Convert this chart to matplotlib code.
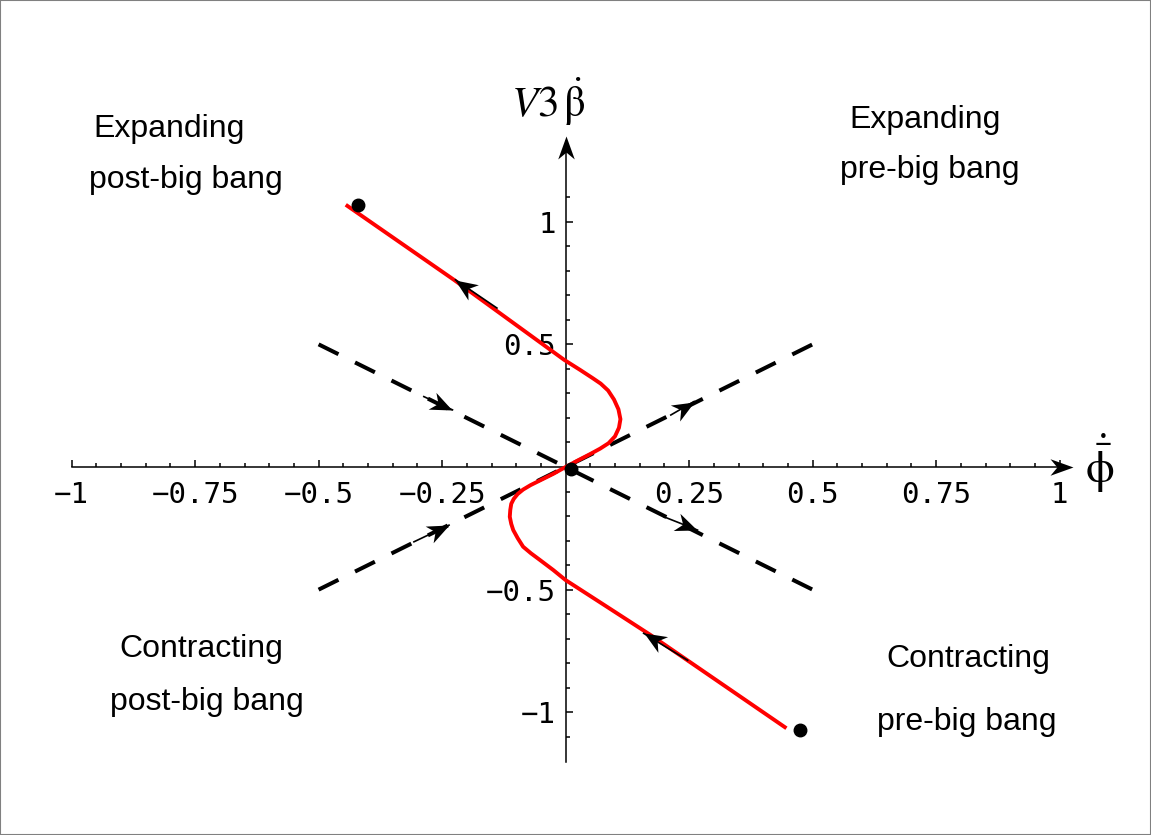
import numpy as np
import matplotlib
matplotlib.use("Agg")
import matplotlib.pyplot as plt
from matplotlib.path import Path
from matplotlib.markers import MarkerStyle
from matplotlib.transforms import Affine2D
from matplotlib.patches import Rectangle

# ---------------- data ----------------
curve_x = [-0.445, -0.226, -0.003, 0.030, 0.055, 0.071, 0.086, 0.098, 0.107, 0.111,
           0.108, 0.100, 0.087, 0.070, 0.050, 0.025, 0.000, -0.025, -0.050, -0.071,
           -0.086, -0.097, -0.105, -0.110, -0.112, -0.113, -0.110, -0.106, -0.097,
           -0.086, -0.070, -0.052, -0.025, 0.000, 0.080, 0.172, 0.447]
curve_y = [1.069, 0.763, 0.437, 0.395, 0.362, 0.340, 0.312, 0.275, 0.235, 0.195,
           0.160, 0.125, 0.097, 0.075, 0.053, 0.027, 0.000, -0.028, -0.053, -0.074,
           -0.092, -0.110, -0.130, -0.150, -0.175, -0.203, -0.232, -0.257, -0.290,
           -0.325, -0.352, -0.379, -0.420, -0.461, -0.565, -0.685, -1.065]

sep_down_x = [-0.5, 0.5]
sep_down_y = [0.5, -0.5]
sep_up_x = [-0.5, 0.5]
sep_up_y = [-0.5, 0.5]

dots_x = [-0.421, 0.010, 0.474]
dots_y = [1.069, -0.010, -1.073]

# arrows: (tail_x, tail_y, tip_x, tip_y)
flow_arrows = [(-0.287, 0.287, -0.229, 0.233),
               (0.199, -0.203, 0.267, -0.257),
               (-0.307, -0.305, -0.236, -0.237),
               (0.213, 0.212, 0.260, 0.267)]
curve_arrows = [(-0.139, 0.648, -0.223, 0.763),
                (0.247, -0.788, 0.158, -0.678)]

x_major = [-1, -0.75, -0.5, -0.25, 0.25, 0.5, 0.75, 1]
x_labels = ["\u22121", "\u22120.75", "\u22120.5", "\u22120.25", "0.25", "0.5", "0.75", "1"]
y_major = [-1, -0.5, 0.5, 1]
y_labels = ["\u22121", "\u22120.5", "0.5", "1"]
x_minor = [round(v, 2) for v in np.arange(-1.0, 1.001, 0.05)]
y_minor = [round(v, 2) for v in np.arange(-1.1, 1.101, 0.1)]

quad_texts = [("Expanding", 169, 137), ("post-big bang", 186, 188),
              ("Expanding", 925, 128), ("pre-big bang", 930, 178),
              ("Contracting", 201, 657), ("post-big bang", 207, 710),
              ("Contracting", 968, 667), ("pre-big bang", 967, 730)]

# ---------------- figure ----------------
plt.rcParams["mathtext.fontset"] = "stix"
W, H = 1151, 835
fig = plt.figure(figsize=(W / 100, H / 100), dpi=100)
ax = fig.add_axes([0, 0, 1, 1])
X0, Y0 = 565.6, 467.0
SX, SY = 494.0, 245.3
ax.set_xlim(-X0 / SX, (W - X0) / SX)
ax.set_ylim(-(H - Y0) / SY, Y0 / SY)

for s in ["top", "right"]:
    ax.spines[s].set_visible(False)
ax.spines["left"].set_position(("data", 0))
ax.spines["bottom"].set_position(("data", 0))
ax.spines["bottom"].set_bounds(-1, 1.01)
ax.spines["left"].set_bounds(-1.203, 1.33)
for s in ["left", "bottom"]:
    ax.spines[s].set_linewidth(1.1)
    ax.spines[s].set_zorder(1)

ax.set_xticks(x_major, x_labels)
ax.set_xticks([v for v in x_minor if abs(v * 4 - round(v * 4)) > 1e-6], minor=True)
ax.set_yticks(y_major, y_labels)
ax.set_yticks([v for v in y_minor if abs(v * 2 - round(v * 2)) > 1e-6 and abs(v) > 1e-6], minor=True)
ax.tick_params(which="both", direction="in", width=1.1, color="black")
ax.tick_params(which="major", length=5)
ax.tick_params(which="minor", length=3)
ax.tick_params(axis="x", pad=10)
ax.tick_params(axis="y", pad=7)
for lab in ax.get_xticklabels() + ax.get_yticklabels():
    lab.set_fontfamily("DejaVu Sans Mono")
    lab.set_fontsize(21)

# separatrices
ax.plot(sep_down_x, sep_down_y, color="black", lw=2.9, dashes=(5.5, 4.6), zorder=2)
ax.plot(sep_up_x, sep_up_y, color="black", lw=2.9, dashes=(5.5, 4.6), zorder=2)

# trajectory
ax.plot(curve_x, curve_y, color="red", lw=2.8, solid_joinstyle="round",
        solid_capstyle="butt", zorder=3)

# arrowhead marker (pointing +x, tip at origin)
def head_path(hw):
    verts = [(0, 0), (-1, hw), (-0.7, 0), (-1, -hw), (0, 0)]
    codes = [Path.MOVETO, Path.LINETO, Path.LINETO, Path.LINETO, Path.CLOSEPOLY]
    return Path(verts, codes)

def draw_head(x, y, ang, length_px, hw):
    ms = 2 * length_px * 0.72
    m = MarkerStyle(head_path(hw), transform=Affine2D().rotate_deg(ang))
    ax.plot([x], [y], marker=m, markersize=ms, color="black", markeredgewidth=0,
            linestyle="none", zorder=5, clip_on=False)

def disp_angle(x0, y0, x1, y1):
    p0 = ax.transData.transform((x0, y0))
    p1 = ax.transData.transform((x1, y1))
    return np.degrees(np.arctan2(p1[1] - p0[1], p1[0] - p0[0]))

for tx, ty, hx, hy in flow_arrows + curve_arrows:
    ax.plot([tx, hx], [ty, hy], color="black", lw=1.2, zorder=4)
    draw_head(hx, hy, disp_angle(tx, ty, hx, hy), 22, 0.42)

# axis arrows
draw_head(1.028, 0, 0, 23, 0.36)
draw_head(0, 1.349, 90, 23, 0.36)

# dots
ax.plot(dots_x, dots_y, "o", color="black", markersize=9, zorder=6)

# axis labels
fig.text(548 / W, 1 - 117 / H, r"$V3\,\dot{\mathrm{\beta}}$", fontsize=31, ha="center",
         va="baseline")
fig.text(1100 / W, 1 - 463 / H, r"$\dot{\bar{\mathrm{\phi}}}$", fontsize=33, ha="center",
         va="center")

# quadrant texts
for txt, px, py in quad_texts:
    fig.text(px / W, 1 - py / H, txt, fontsize=23, family="Liberation Sans",
             ha="center", va="baseline")

# frame
fig.patches.append(Rectangle((0, 0), 1, 1, transform=fig.transFigure, fill=False,
                             edgecolor="#808080", lw=1.5))

fig.savefig("out.png", dpi=100)
